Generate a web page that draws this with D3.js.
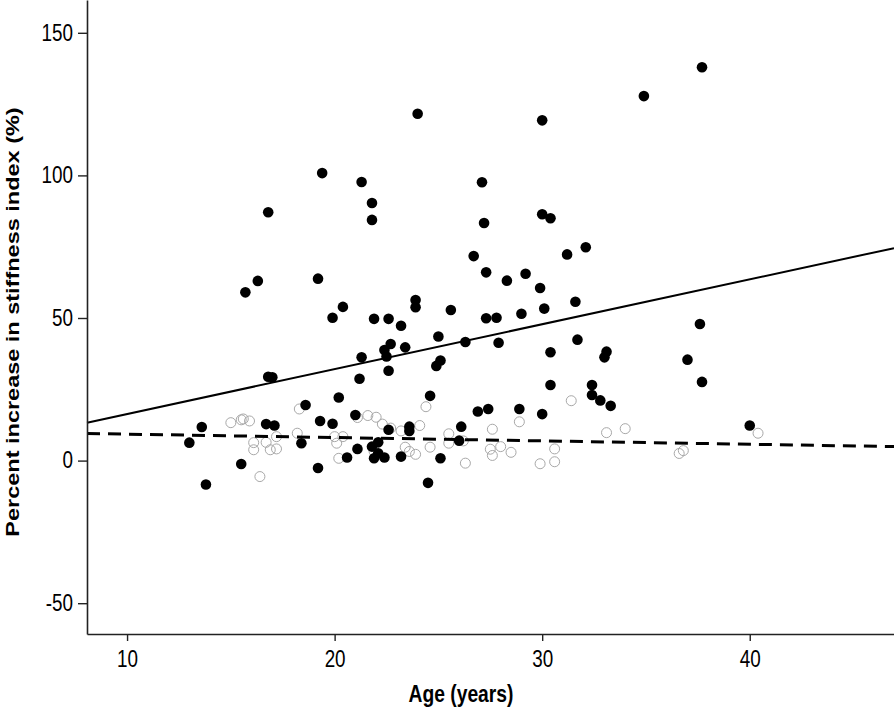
<!DOCTYPE html>
<html>
<head>
<meta charset="utf-8">
<script src="https://cdn.jsdelivr.net/npm/d3@7"></script>
<style>
  html, body { margin: 0; padding: 0; background: #fff; }
  svg { display: block; }
  text { font-family: "Liberation Sans", Arial, sans-serif; }
</style>
</head>
<body>
<svg id="chart" width="894" height="713"></svg>
<script>
// ---------- data ----------
// Filled circles (group 1): [age (years), percent increase]
const filledAge = [37.7,34.9,24.0,30.0,19.4,27.1,21.3,21.8,21.8,16.8,30.0,30.4,27.2,32.1,31.2,26.7,16.3,15.7,19.2,29.2,28.3,27.3,29.9,20.4,19.9,23.9,23.9,25.6,21.9,22.6,23.2,31.6,30.1,29.0,27.3,27.8,25.0,26.3,27.9,22.7,22.4,23.4,22.5,21.3,22.6,21.2,24.9,25.1,31.7,30.4,33.1,33.0,37.6,37.0,37.7,16.8,17.0,18.6,20.2,24.6,30.4,32.4,32.4,32.8,33.3,40.0,13.6,13.0,15.5,13.8,16.7,17.1,19.3,19.9,21.0,22.6,18.4,22.1,21.8,21.1,20.6,21.9,22.4,22.1,19.2,23.2,26.9,27.4,28.9,23.6,23.6,26.1,26.0,25.1,24.5,30.0];
const filledValue = [137.9,127.8,121.6,119.3,100.8,97.6,97.7,90.3,84.4,87.1,86.4,85.0,83.3,74.8,72.3,71.7,63.0,59.0,63.8,65.5,63.1,66.0,60.5,53.9,50.1,56.3,53.8,52.8,49.7,49.7,47.3,55.7,53.3,51.5,49.9,50.1,43.5,41.6,41.3,40.9,38.8,39.7,36.5,36.2,31.5,28.7,33.2,35.1,42.4,38.0,38.2,36.2,47.9,35.4,27.6,29.4,29.2,19.5,22.1,22.7,26.5,26.5,23.0,21.1,19.2,12.3,11.8,6.3,-1.2,-8.4,12.8,12.3,13.9,12.9,16.0,10.8,6.1,6.4,4.9,4.1,1.1,0.8,1.1,2.6,-2.6,1.4,17.2,18.1,18.1,11.9,10.4,11.9,7.0,0.8,-7.8,16.3];

// Open circles (group 2): [age (years), percent increase]
const openAge = [15.0,15.5,15.6,15.9,16.1,16.1,16.7,16.9,17.2,17.2,16.4,18.3,18.2,20.0,20.4,20.1,20.2,21.1,21.6,22.0,22.3,22.7,23.2,23.4,21.9,24.4,24.1,25.5,25.5,26.2,24.6,23.6,23.9,26.3,27.6,27.5,27.6,28.0,28.5,28.9,31.4,33.1,34.0,30.6,30.6,29.9,36.6,36.8,40.4];
const openValue = [13.3,14.3,14.6,13.9,6.3,3.8,6.4,3.8,4.1,8.4,-5.6,18.1,9.6,8.4,8.4,6.1,0.8,15.1,15.8,15.2,12.8,11.4,10.4,4.7,3.2,18.9,12.3,9.4,6.1,6.9,4.7,3.2,2.2,-0.9,11.0,4.0,1.8,4.9,2.9,13.6,21.0,9.8,11.2,4.1,-0.4,-1.1,2.5,3.5,9.6];

// Regression lines: [intercept, slope]
const fitFilled = [0.6, 1.574];
const fitOpen = [10.45, -0.118];

const xTicks = [10, 20, 30, 40];
const yTicks = [-50, 0, 50, 100, 150];
const xDomain = [8.07, 46.95];
const yDomain = [-60.8, 161.5];

const xTitle = "Age (years)";
const yTitle = "Percent increase in stiffness index (%)";

// ---------- layout ----------
const svg = d3.select("#chart");
const plotLeft = 87, plotRight = 894, plotTop = 0, plotBottom = 634;
const squeeze = 0.82; // horizontal condensation of the lettering

const x = d3.scaleLinear().domain(xDomain).range([plotLeft, plotRight]);
const y = d3.scaleLinear().domain(yDomain).range([plotBottom, plotTop]);

// points: open first, filled on top
const openPts = d3.zip(openAge, openValue);
svg.append("g").selectAll("circle").data(openPts).join("circle")
  .attr("cx", d => x(d[0])).attr("cy", d => y(d[1])).attr("r", 5)
  .attr("fill", "none").attr("stroke", "#a8a8a8").attr("stroke-width", 1);

const filledPts = d3.zip(filledAge, filledValue);
svg.append("g").selectAll("circle").data(filledPts).join("circle")
  .attr("cx", d => x(d[0])).attr("cy", d => y(d[1])).attr("r", 5.3)
  .attr("fill", "#000");

// regression lines
const line = d3.line().x(d => x(d[0])).y(d => y(d[1]));
const fitPts = f => xDomain.map(a => [a, f[0] + f[1] * a]);
svg.append("path").attr("d", line(fitPts(fitFilled)))
  .attr("fill", "none").attr("stroke", "#000").attr("stroke-width", 2);
svg.append("path").attr("d", line(fitPts(fitOpen)))
  .attr("fill", "none").attr("stroke", "#000").attr("stroke-width", 3)
  .attr("stroke-dasharray", "13,8");

// axes
const fmt = d => String(d);
const xAxis = svg.append("g").attr("transform", `translate(0,${plotBottom})`)
  .call(d3.axisBottom(x).tickValues(xTicks).tickFormat(fmt).tickSize(7).tickPadding(10).tickSizeOuter(0));
const yAxis = svg.append("g").attr("transform", `translate(${plotLeft},0)`)
  .call(d3.axisLeft(y).tickValues(yTicks).tickFormat(fmt).tickSize(9).tickPadding(5).tickSizeOuter(0));
[xAxis, yAxis].forEach(g => {
  g.select(".domain").attr("stroke", "#222").attr("stroke-width", 1.6);
  g.selectAll(".tick line").attr("stroke", "#222").attr("stroke-width", 1.4);
  g.selectAll(".tick text").attr("fill", "#000").style("font-size", "23px")
    .style("font-family", "'Liberation Sans', Arial, sans-serif");
});
xAxis.selectAll(".tick text").attr("transform", `scale(${squeeze},1)`);
yAxis.selectAll(".tick text").attr("x", 0)
  .attr("transform", `translate(-14,0) scale(${squeeze},1)`);

// titles
svg.append("text").attr("transform", `translate(461,702) scale(${squeeze},1)`)
  .attr("text-anchor", "middle")
  .style("font-size", "23.5px").style("font-weight", "bold").text(xTitle);
svg.append("text").attr("transform", `translate(19,322) rotate(-90) scale(1,${squeeze})`)
  .attr("text-anchor", "middle")
  .style("font-size", "23.5px").style("font-weight", "bold").text(yTitle);
</script>
</body>
</html>
